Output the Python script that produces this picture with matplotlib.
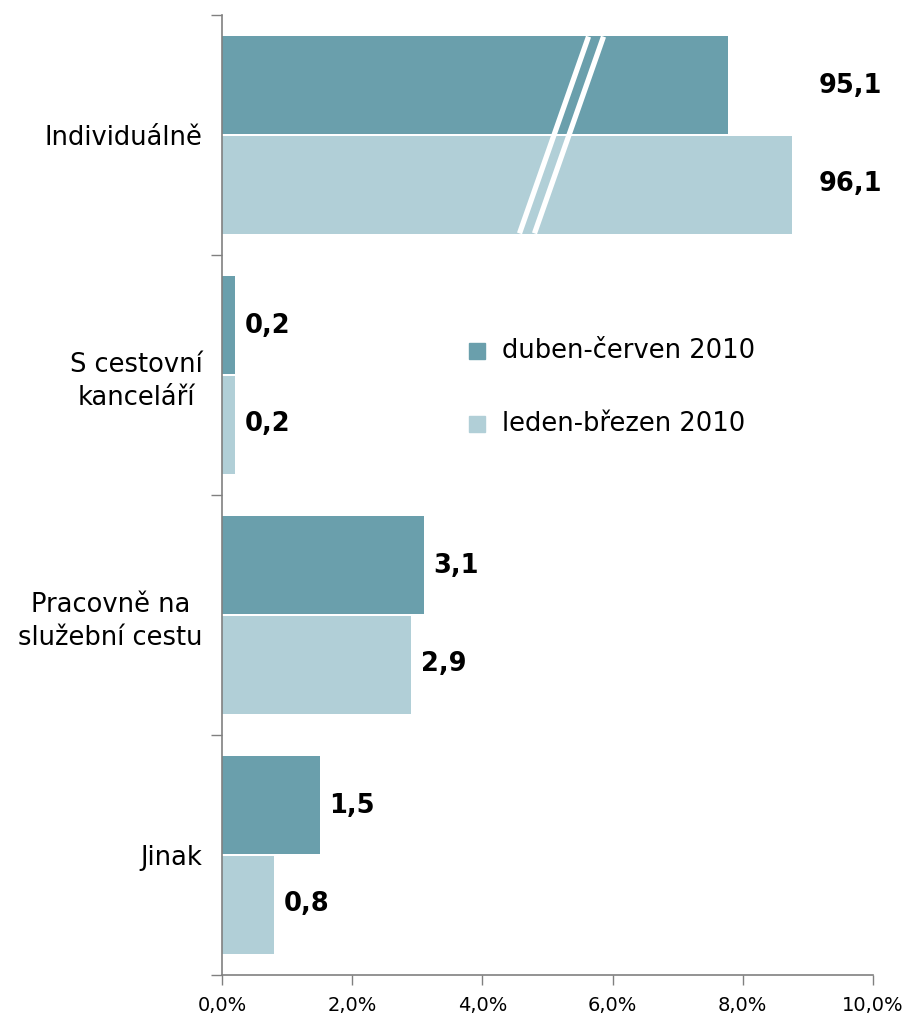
import matplotlib
matplotlib.use("Agg")
import matplotlib.pyplot as plt
from matplotlib.patches import Rectangle
from matplotlib.ticker import FixedLocator

categories = ["Individuálně", "S cestovní\nkanceláří", "Pracovně na\nslužební cestu", "Jinak"]
series_names = ["duben-červen 2010", "leden-březen 2010"]
values_q2 = [95.1, 0.2, 3.1, 1.5]
values_q1 = [96.1, 0.2, 2.9, 0.8]
# displayed (broken-axis) lengths for values beyond the axis range
display_cap_q2 = [7.77, None, None, None]
display_cap_q1 = [8.76, None, None, None]
xticks = [0, 2, 4, 6, 8, 10]
xticklabels = ["0,0%", "2,0%", "4,0%", "6,0%", "8,0%", "10,0%"]

c_dark = "#6A9FAC"
c_light = "#B1CFD7"

plt.rcParams['font.family'] = ['DejaVu Sans']
fig = plt.figure(figsize=(9.08, 10.19), dpi=100)
ax = fig.add_axes([222/908, 1-975/1019, (873-222)/908, (975-15)/1019])

n = len(categories)
bh = 0.41
vfs = 18.5
for i in range(n):
    w2 = display_cap_q2[i] if display_cap_q2[i] is not None else values_q2[i]
    w1 = display_cap_q1[i] if display_cap_q1[i] is not None else values_q1[i]
    top = i + 0.5 - bh - 0.003
    ax.barh(top, w2, height=bh, align='edge', color=c_dark, edgecolor='none')
    ax.barh(i + 0.5 + 0.003, w1, height=bh, align='edge', color=c_light, edgecolor='none')
    lbl2 = f"{values_q2[i]:.1f}".replace(".", ",")
    lbl1 = f"{values_q1[i]:.1f}".replace(".", ",")
    if display_cap_q2[i] is not None:
        ax.text(9.16, i + 0.5 - bh/2, lbl2, ha='left', va='center', fontsize=vfs, fontweight='bold', clip_on=False)
        ax.text(9.16, i + 0.5 + bh/2, lbl1, ha='left', va='center', fontsize=vfs, fontweight='bold', clip_on=False)
        # axis-break marks
        for xt, xb in [(5.63, 4.57), (5.86, 4.80)]:
            ax.plot([xt, xb], [i + 0.5 - bh, i + 0.5 + bh], color='white', lw=3.8, solid_capstyle='butt')
    else:
        ax.text(w2 + 0.15, i + 0.5 - bh/2, lbl2, ha='left', va='center', fontsize=vfs, fontweight='bold')
        ax.text(w1 + 0.15, i + 0.5 + bh/2, lbl1, ha='left', va='center', fontsize=vfs, fontweight='bold')

ax.set_xlim(0, 10)
ax.set_ylim(n, 0)
ax.set_xticks(xticks)
ax.set_xticklabels(xticklabels, fontsize=14)
ax.set_yticks([i + 0.5 for i in range(n)])
ax.set_yticklabels(categories, fontsize=18.5, ha='right', multialignment='center', linespacing=1.35)
ax.yaxis.set_minor_locator(FixedLocator(list(range(n + 1))))
ax.tick_params(axis='y', which='major', length=0, pad=14)
ax.tick_params(axis='y', which='minor', length=8, width=1, color='#808080')
ax.tick_params(axis='x', length=7, width=1, color='#808080', pad=8)
for s in ['top', 'right']:
    ax.spines[s].set_visible(False)
for s in ['left', 'bottom']:
    ax.spines[s].set_color('#808080')
    ax.spines[s].set_linewidth(1.2)

# legend
for k, (name, col) in enumerate(zip(series_names, [c_dark, c_light])):
    yc = 351 + k * 73
    fig.patches.append(Rectangle((469/908, 1-(yc+8)/1019), 16/908, 16/1019,
                                 transform=fig.transFigure, color=col, figure=fig))
    fig.text(502/908, 1-yc/1019, name, ha='left', va='center', fontsize=18.5)

fig.savefig("out.png", dpi=100)
